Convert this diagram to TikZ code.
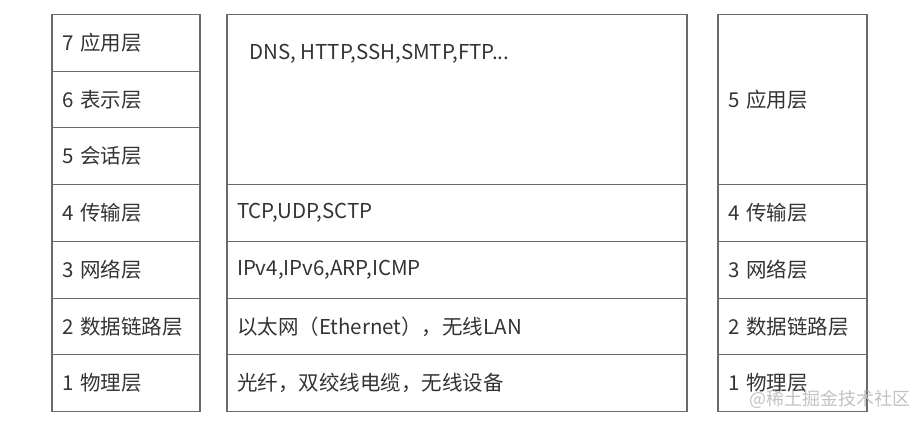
\documentclass[tikz,border=0pt]{standalone}
\usepackage{fontspec}
\setmainfont{Noto Sans CJK SC}
\usetikzlibrary{positioning}

\definecolor{linegray}{HTML}{6A6A6A}
\definecolor{textgray}{HTML}{333333}
\definecolor{markgray}{HTML}{C2C2C2}

\tikzset{
  cell/.style={rectangle, draw=linegray, line width=1.1pt, outer sep=0pt,
    inner xsep=10pt, inner ysep=0pt, text width=#1, align=left,
    minimum height=56.71pt, text=textgray, font=\fontsize{20.5}{24}\selectfont},
  celltxt/.style={inner sep=0pt, text=textgray, font=\fontsize{20.5}{24}\selectfont},
}

\begin{document}
\begin{tikzpicture}[x=1pt, y=-1pt]
  \useasboundingbox (0,0) rectangle (923,424);

  % OSI seven layers
  \foreach \n/\txt [count=\k] in {7/应用层, 6/表示层, 5/会话层, 4/传输层, 3/网络层, 2/数据链路层, 1/物理层} {
    \node[cell=128pt] (osi\n) at (126, {14.5+56.71*(\k-0.5)}) {\n\ \txt};
  }

  % Protocols, top part spans three rows
  \node[cell=440pt, minimum height=170.13pt] (proto5) at (457, 99.57) {};
  \node[celltxt, anchor=base west] (apptxt) at ([xshift=22pt, yshift=-45pt]proto5.north west) {DNS, HTTP,SSH,SMTP,FTP...};

  % TCP/IP five layers
  \node[cell=129pt, minimum height=170.13pt] (tcpip5) at (792.5, 99.57) {5 应用层};
  \draw[line width=1.7pt, draw=black!75] (tcpip5.south west) -- (tcpip5.south east);

  % lower four rows
  \foreach \n/\lay/\proto [count=\k from 4] in {4/传输层/{TCP,UDP,SCTP}, 3/网络层/{IPv4,IPv6,ARP,ICMP}, 2/数据链路层/以太网（Ethernet），无线LAN, 1/物理层/光纤，双绞线电缆，无线设备} {
    \node[cell=440pt] (proto\n) at (457, {14.5+56.71*(\k-0.5)}) {\proto};
    \node[cell=129pt] (tcpip\n) at (792.5, {14.5+56.71*(\k-0.5)}) {\n\ \lay};
  }

  % watermark
  \node[inner sep=0pt, anchor=west, text=markgray, font=\fontsize{18}{20}\selectfont] (mark) at (749, 399) {@稀土掘金技术社区};
\end{tikzpicture}
\end{document}
